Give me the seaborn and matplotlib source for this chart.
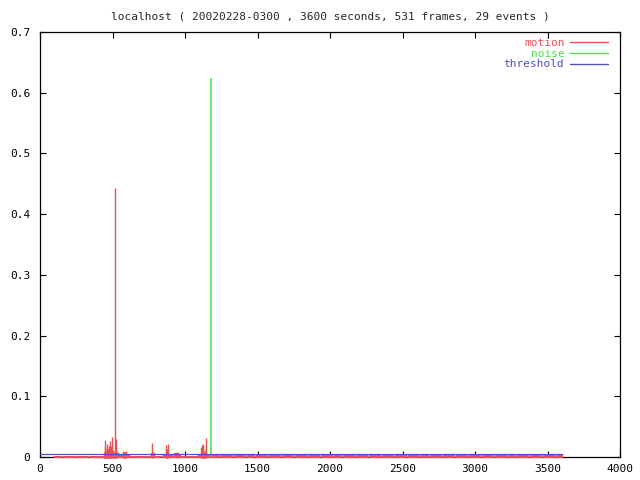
import matplotlib
matplotlib.use("Agg")
import matplotlib.pyplot as plt
from matplotlib.lines import Line2D
import seaborn as sns
import pandas as pd

title = "localhost ( 20020228-0300 , 3600 seconds, 531 frames, 29 events )"

# motion samples (seconds, level)
motion_t = [
    110, 140, 170, 200, 230, 260, 290, 320, 350, 380, 410, 435,
    443, 447, 450, 454, 458, 462, 465, 469, 472, 476, 480, 484, 487, 491,
    495, 499, 503, 507, 510, 514, 517, 521, 524, 528, 532, 545,
    560, 575, 579, 583, 588, 592, 605, 630, 660, 690, 720, 750, 773, 777, 781, 800, 830,
    860, 866, 870, 875, 879, 882, 900, 925, 940, 944, 948, 956, 980, 1010, 1040, 1070,
    1100, 1112, 1115, 1119, 1122, 1126, 1130, 1140, 1143, 1147, 1152, 1170,
    1200, 1230, 1260, 1290, 1320, 1350, 1380, 1410, 1440, 1470,
    1500, 1530, 1560, 1590, 1620, 1650, 1680, 1710, 1740, 1770,
    1800, 1830, 1860, 1890, 1920, 1950, 1980, 2010, 2040, 2070,
    2100, 2130, 2160, 2190, 2220, 2250, 2280, 2310, 2340, 2370,
    2400, 2430, 2460, 2490, 2520, 2550, 2580, 2610, 2640, 2670,
    2700, 2730, 2760, 2790, 2820, 2850, 2880, 2910, 2940, 2970,
    3000, 3030, 3060, 3090, 3120, 3150, 3180, 3210, 3240, 3270,
    3300, 3330, 3360, 3390, 3420, 3450, 3480, 3510, 3540, 3570, 3590,
]
motion_v = [
    0.0015, 0.0015, 0.0015, 0.0015, 0.0015, 0.0015, 0.0015, 0.0015, 0.0015, 0.0015, 0.0015, 0.0015,
    0.008, 0.016, 0.028, 0.012, 0.010, 0.015, 0.022, 0.012, 0.014, 0.018, 0.026, 0.015, 0.018, 0.013,
    0.033, 0.012, 0.012, 0.009, 0.006, 0.010, 0.443, 0.012, 0.030, 0.009, 0.006, 0.004,
    0.003, 0.010, 0.008, 0.008, 0.009, 0.010, 0.003, 0.002, 0.002, 0.002, 0.002, 0.002, 0.023, 0.008, 0.007, 0.002, 0.002,
    0.003, 0.019, 0.010, 0.012, 0.014, 0.021, 0.003, 0.002, 0.006, 0.007, 0.008, 0.005, 0.002, 0.002, 0.002, 0.002,
    0.003, 0.016, 0.020, 0.012, 0.022, 0.010, 0.008, 0.012, 0.031, 0.008, 0.005, 0.004,
    0.005, 0.005, 0.0045, 0.005, 0.0055, 0.005, 0.005, 0.0045, 0.005, 0.005,
    0.005, 0.0055, 0.005, 0.005, 0.0045, 0.005, 0.005, 0.005, 0.0055, 0.005,
    0.005, 0.0045, 0.005, 0.005, 0.005, 0.0055, 0.005, 0.005, 0.0045, 0.005,
    0.005, 0.005, 0.0055, 0.005, 0.005, 0.0045, 0.005, 0.005, 0.005, 0.0055,
    0.005, 0.005, 0.0045, 0.005, 0.005, 0.005, 0.0055, 0.005, 0.005, 0.0045,
    0.005, 0.005, 0.005, 0.0055, 0.005, 0.005, 0.0045, 0.005, 0.005, 0.005,
    0.0055, 0.005, 0.005, 0.0045, 0.005, 0.005, 0.005, 0.0055, 0.005, 0.005,
    0.0045, 0.005, 0.005, 0.005, 0.0055, 0.005, 0.005, 0.0045, 0.005, 0.005, 0.005,
]
noise_t = [1181]
noise_v = [0.624]
threshold_t = [0, 3600]
threshold_v = [0.0055, 0.0055]

series = ["motion", "noise", "threshold"]
colors = ["#e8505c", "#48e048", "#5050c0"]

sns.set_style("ticks")
plt.rcParams["font.family"] = ["DejaVu Sans Mono"]

fig = plt.figure(figsize=(6.4, 4.8), dpi=100)
ax = fig.add_axes([40 / 640, 23 / 480, 580 / 640, 425 / 480])

# impulses: thin for the peaks, wider for the dense low band
lws = [1.0 if v > 0.007 else 3.2 for v in motion_v]
ax.vlines(motion_t, -0.001, motion_v, colors=colors[0], linewidths=lws, zorder=3, clip_on=False)
ax.vlines(noise_t, 0, noise_v, colors=colors[1], linewidths=1.1, zorder=3)

thr = pd.DataFrame({"t": threshold_t, "v": threshold_v})
sns.lineplot(data=thr, x="t", y="v", color=colors[2], lw=0.9, ax=ax, zorder=4)

ax.set_xlim(0, 4000)
ax.set_ylim(0, 0.7)
ax.set_xticks(range(0, 4001, 500))
ax.set_yticks([0, 0.1, 0.2, 0.3, 0.4, 0.5, 0.6, 0.7])
ax.set_yticklabels(["0", "0.1", "0.2", "0.3", "0.4", "0.5", "0.6", "0.7"])
ax.set_xlabel("")
ax.set_ylabel("")
for s in ax.spines.values():
    s.set_visible(True)
    s.set_color("black")
    s.set_linewidth(0.9)
ax.spines["bottom"].set_zorder(1)
ax.tick_params(axis="both", direction="in", length=4, width=0.8, colors="black",
               labelsize=8, top=True, right=True, bottom=True, left=True)
ax.tick_params(axis="y", pad=7)
ax.tick_params(axis="x", pad=5)

ax.set_title(title, fontsize=8, pad=9)

handles = [Line2D([], [], color=c, lw=1) for c in colors]
ax.legend(handles, series, loc="upper right", bbox_to_anchor=(0.979, 0.985),
          frameon=False, markerfirst=False, fontsize=8, labelcolor=colors,
          handlelength=3.4, handletextpad=0.5, labelspacing=0.05,
          borderpad=0, borderaxespad=0)

fig.savefig("out.png", dpi=100)
